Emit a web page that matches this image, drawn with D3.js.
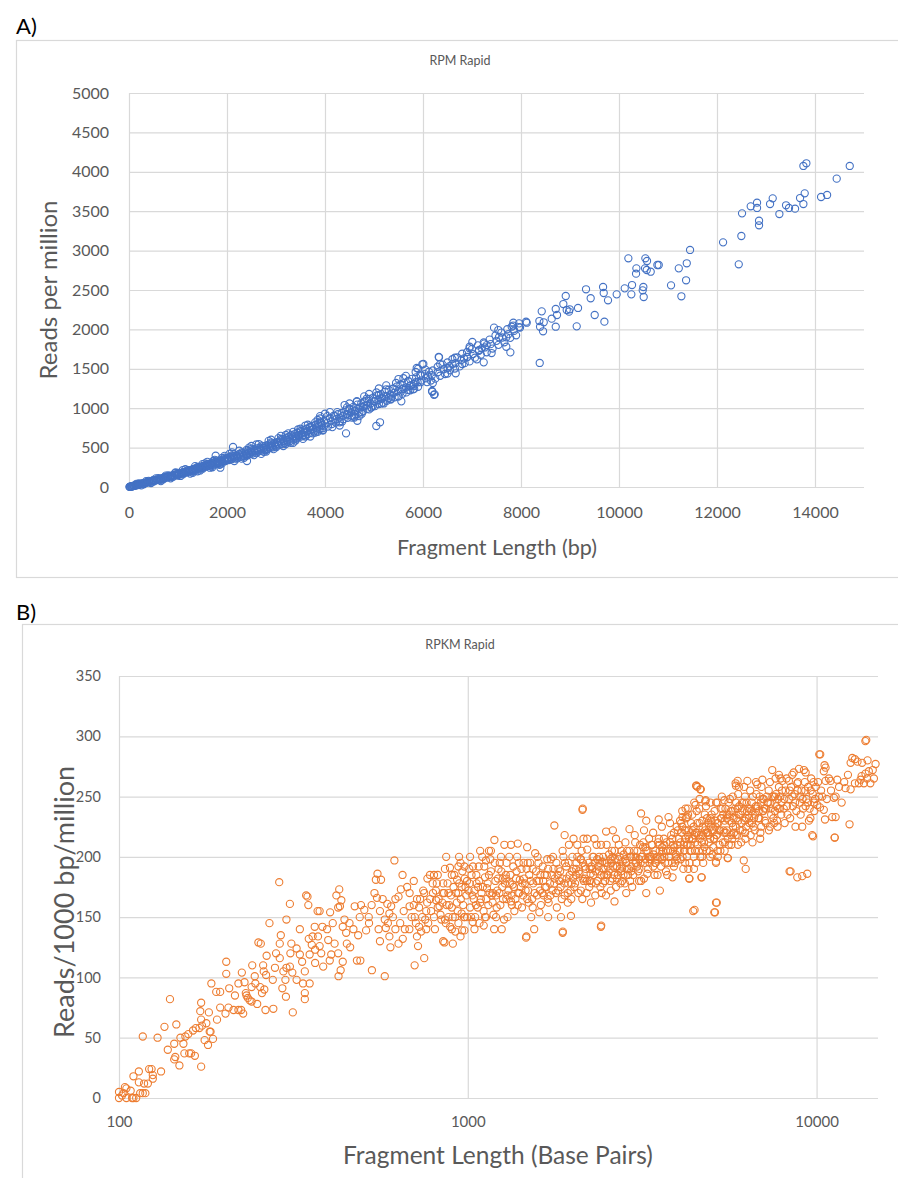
<!DOCTYPE html>
<html>
<head>
<meta charset="utf-8">
<script src="https://cdn.jsdelivr.net/npm/d3@7"></script>
<style>
body { margin: 0; background: #fff; }
text { font-family: Lato, "Open Sans", sans-serif; }
</style>
</head>
<body>
<script>
// A) RPM vs fragment length  [length bp, reads per million]
var rpmLow = [[10,1],[20,4],[35,5],[50,9],[60,7],[80,12],[95,16],[110,15],[125,20],[140,22],[160,26],[175,25],[190,31],[210,33],[230,35],[250,41],[270,42],[290,47],[310,48],[330,55],[350,54],[375,60],[400,63],[420,70],[445,68],[470,78],[495,76],[520,85],[545,84],[570,93],[600,96],[625,104],[650,101],[680,112],[710,114],[740,122],[770,120],[800,133],[830,135],[860,144],[890,142],[920,152],[950,158],[980,157],[300,40],[500,90],[650,90],[720,125],[850,125],[940,175],[990,145],
  [1010,170],[1030,158],[1055,177],[1080,169],[1100,188],[1125,177],[1150,196],[1175,185],[1200,208],[1225,194],[1250,215],[1275,202],[1300,226],[1320,213],[1350,237],[1375,222],[1400,246],[1425,231],[1450,257],[1475,239],[1500,265],[1525,248],[1550,275],[1575,259],[1600,286],[1625,267],[1650,296],[1680,278],[1700,305],[1730,286],[1760,318],[1790,298],[1820,329],[1850,307],[1880,342],[1910,320],[1940,353],[1970,329],[1990,364],[1860,290],[1720,330],[1769,397],[1864,245]];
var rpmMid = [[2010,367],[2040,342],[2070,381],[2100,354],[2130,395],[2160,362],[2190,403],[2220,372],[2250,419],[2280,384],[2310,430],[2340,393],[2370,440],[2400,408],[2430,456],[2460,415],[2490,463],[2520,425],[2550,476],[2580,439],[2610,491],[2640,449],[2670,499],[2700,459],[2730,515],[2760,472],[2790,524],[2820,481],[2850,539],[2880,493],[2910,550],[2940,503],[2970,559],[2990,518],[2123,508],[2408,330],[2200,390],[2500,440],[2750,495],[2900,525],
  [3020,570],[3050,528],[3080,589],[3110,542],[3140,606],[3170,556],[3200,624],[3230,570],[3260,638],[3290,583],[3320,657],[3350,601],[3380,672],[3410,613],[3440,689],[3470,629],[3500,706],[3530,643],[3560,720],[3590,657],[3620,739],[3650,673],[3680,754],[3710,687],[3740,772],[3770,703],[3800,787],[3830,716],[3860,806],[3890,733],[3920,819],[3950,745],[3980,838],[3350,700],[3700,770],[3550,660],[3900,900],[3980,770],[3150,580],[3450,650],[3750,730],
  [4000,930],[4020,856],[4060,767],[4100,873],[4140,799],[4180,905],[4220,817],[4260,923],[4300,834],[4340,940],[4380,861],[4420,973],[4460,879],[4500,990],[4540,906],[4580,1017],[4620,924],[4660,1045],[4700,946],[4740,1062],[4780,963],[4820,1090],[4860,991],[4900,1117],[4940,1008],[4980,1134],[5020,1026],[5060,1162],[5100,1053],[5140,1179],[5180,1070],[5220,1207],[5260,1093],[5300,1234],[5340,1110],[5380,1246],[5420,1138],[5460,1274],[5500,1150],[5540,1301],[5580,1182],[5620,1319],[5660,1200],[5700,1346],[5740,1227],[5780,1373],[5820,1245],[5860,1391],[5900,1272],[5950,1426],[4440,920],[4800,1030],[5150,1120],[5600,1250],[5850,1330],[5000,1090],[4600,960],[4429,681],[5047,774],[5123,821],[4660,841],[5558,1087]];
var rpmFill = [[15,2],[45,6],[70,11],[100,14],[130,21],[165,24],[200,30],[240,38],[280,44],[320,50],[360,58],[410,65],[460,72],[510,80],[560,88],[610,98],[660,106],[700,112],[750,120],[790,128],[840,136],[880,142],[930,150],[970,156],[1020,163],[1060,170],[1110,180],[1160,188],[1210,198],[1260,208],[1310,218],[1360,228],[1410,238],[1460,247],[1510,256],[1560,265],[1610,275],[1660,284],[1710,294],[1770,305],[1830,316],[1890,328],[1950,340],[1995,348],
  [200,45],[400,78],[600,112],[800,148],[1000,180],[1200,215],[1400,255],[1600,292],[1800,335],[1950,372],[300,35],[500,68],[700,98],[900,130],[1100,160],[1300,196],[1500,232],[1700,268],[1900,300],
  [2020,354],[2080,365],[2140,377],[2200,388],[2260,400],[2320,411],[2380,422],[2440,434],[2500,445],[2560,457],[2620,468],[2680,479],[2740,491],[2800,502],[2860,513],[2920,525],[2980,536],[3040,550],[3100,566],[3160,582],[3220,597],[3280,613],[3340,628],[3400,644],[3460,660],[3520,675],[3580,691],[3640,706],[3700,722],[3760,738],[3820,753],[3880,769],[3940,784],
  [2100,400],[2300,440],[2500,485],[2700,525],[2900,565],[3100,610],[3300,655],[3500,710],[3700,760],[3900,830],[2200,360],[2400,395],[2600,430],[2800,470],[3000,505],[3200,545],[3400,590],[3600,640],[3800,690],[3960,720],
  [4050,814],[4130,836],[4210,859],[4290,881],[4370,904],[4450,926],[4530,948],[4610,971],[4690,993],[4770,1016],[4850,1038],[4930,1060],[5010,1083],[5090,1105],[5170,1128],[5250,1150],[5330,1172],[5410,1195],[5490,1217],[5570,1240],[5650,1262],[5730,1284],[5810,1307],[5890,1329],[5970,1352],
  [4200,900],[4500,990],[4800,1080],[5100,1170],[5400,1250],[5700,1340],[5950,1410],[4650,1080],[5250,1240],[4300,820],[4600,895],[4900,985],[5200,1060],[5500,1150],[5800,1240],[4750,930],[5350,1120],
  [6060,1380],[6180,1418],[6300,1456],[6420,1494],[6540,1533],[6660,1571],[6780,1610],[6900,1648],[7020,1687],[7140,1729],[7260,1771],[7380,1813],[7500,1855],[7620,1897],[7740,1939],[7860,1981],[7980,2023]];
var rpmSpread = [[150,40],[250,20],[350,75],[450,50],[550,110],[650,75],[750,145],[850,110],[950,185],[1050,140],
  [1150,225],[1250,170],[1350,265],[1450,210],[1550,300],[1650,245],[1750,345],[1850,280],[1950,395],[1100,215],[1300,180],[1500,290],[1700,250],[1900,370],[1400,200],[1600,320],[1800,290],
  [2050,420],[2150,330],[2250,460],[2350,370],[2450,500],[2550,405],[2650,545],[2750,445],[2850,585],[2950,480],[2100,440],[2300,360],[2500,520],[2700,420],[2900,600],[2600,540],[2400,470],[2800,450],
  [3050,620],[3150,520],[3250,680],[3350,560],[3450,730],[3550,610],[3650,790],[3750,680],[3850,850],[3950,720],[3100,650],[3300,560],[3500,740],[3700,640],[3900,870],[3200,660],[3400,620],[3600,780],[3800,820],[3850,700],
  [4050,900],[4150,760],[4250,950],[4350,830],[4450,1010],[4550,880],[4650,1090],[4750,950],[4850,1120],[4950,1010],[4100,950],[4300,780],[4500,1060],[4700,900],[4900,1180],[4400,1040],[4600,880],[4800,1150],[4980,1030],
  [5050,1200],[5150,1060],[5250,1290],[5350,1150],[5450,1320],[5550,1210],[5650,1410],[5750,1290],[5850,1460],[5950,1330],[5100,1250],[5300,1130],[5500,1370],[5700,1230],[5900,1500],[5200,1150],[5600,1380],[5800,1280],
  [6050,1490],[6200,1320],[6350,1560],[6500,1440],[6650,1640],[6800,1560],[6950,1760],[7100,1620],[7250,1820],[7400,1700],[7550,1900],[7700,1780],[7850,2000],[6600,1560],[7200,1760]];
var rpmHigh = [[6007,1561],[6321,1650],[6225,1171],[6184,1218],[6239,1176],[6190,1209],[6327,1646],[5872,1510],[5987,1557],[7783,1709],[7239,1582],[6667,1443],
  [6040,1433],[6080,1331],[6120,1463],[6160,1351],[6200,1479],[6250,1375],[6300,1526],[6350,1412],[6400,1553],[6450,1434],[6500,1580],[6550,1481],[6600,1622],[6650,1503],[6700,1644],[6750,1530],[6800,1691],[6850,1572],[6900,1713],[6950,1594],[7000,1750],[7060,1641],[7120,1797],[7180,1678],[7240,1834],[7300,1710],[7360,1871],[7420,1757],[7480,1923],[7540,1804],[7600,1960],[7660,1836],[7720,2002],[7780,1893],[7840,2049],[7900,1925],[7960,2076],[6100,1400],[6500,1510],[6900,1650],[7300,1800],[7700,1900],[7450,2022],[7537,1992],[7007,1840],[6952,1780],[7143,1738],[6837,1631],
  [7844,2085],[7810,2034],[7960,2030],[8103,2098],[8117,2085],[8375,2106],[8389,2034],[8423,2229],[8464,2090],[8450,1976],[8709,2034],[8627,2136],[8382,1574],[8709,2259],[8735,2183],[8913,2424],[8864,2322],[8980,2225],[8933,2246],[8994,2255],[9164,2272],[9137,2039],[9422,2395],[9327,2509],[9504,2183],[9702,2098],[9675,2538],[9688,2462],[9776,2369],[9953,2445],[10117,2521],[10252,2445],[10266,2563],[10497,2538],[10484,2496],[10504,2411],[10191,2902],[10355,2775],[10348,2707],[10531,2775],[10566,2754],[10572,2868],[10538,2902],[10647,2732],[10811,2817],[10783,2817],[11273,2420],[11062,2559],[11369,2623],[11220,2775],[11383,2839],[11450,3008],[12444,2826],[12124,3105],[12497,3185],[12858,3379],[12858,3321],[12511,3473],[12817,3608],[12817,3541],[12688,3562],[13083,3591],[13137,3663],[13273,3464],[13409,3575],[13470,3541],[13593,3532],[13763,3591],[13695,3667],[13790,3727],[14124,3680],[14247,3706],[14443,3913],[14709,4074],[13763,4074],[13824,4108]];

// B) RPKM vs fragment length  [length bp, reads/1000 bp/million]
var rpkmShort = [[100,5],[100,0],[104,9],[105,8],[103,4],[105,0],[109,0],[110,0],[102,2],[117,4],[119,4],[115,4],[110,18],[114,22],[114,13],[122,24],[124,24],[125,19],[125,16],[121,12],[132,22],[117,51],[129,50],[135,59],[146,61],[140,82],[144,45],[153,45],[144,32],[145,34],[149,27],[154,37],[159,37],[161,37],[172,26],[155,51],[158,53],[163,56],[166,58],[170,58],[173,60],[180,44],[176,48],[186,49],[182,55],[171,72],[172,65],[172,79],[181,71],[183,55],[191,65],[184,95],[190,88],[195,88],[108,6],[112,0],[118,12],[138,40],[150,50],[165,35],[178,62],[195,75],
  [203,113],[203,103],[207,91],[206,75],[213,73],[224,73],[227,70],[220,73],[202,70],[225,104],[229,96],[232,85],[234,83],[237,81],[231,87],[240,92],[246,95],[249,78],[263,73],[277,74],[270,145],[251,129],[255,128],[288,179],[309,161],[302,148],[347,167],[349,160],[344,168],[315,71],[264,102],[261,90],[257,87],[254,92],[241,110],[245,101],[259,110],[260,105],[282,120],[289,116],[276,98],[291,135],[289,128],[294,91],[296,105],[302,108],[309,109],[301,84],[312,128],[323,124],[330,119],[314,104],[323,98],[337,95],[341,105],[335,113],[352,119],[357,127],[365,123],[376,126],[341,87],[341,82],[352,95],[364,142],[383,142],[372,134],[359,134],[376,155],[371,155],[403,154],[398,131],[406,119],[402,114],[385,109],[420,168],[428,173],[434,164],[430,159],[425,158],[443,148],[438,142],[458,145],[448,137],[425,120],[438,113],[432,106],[426,101],[481,114],[492,114],[474,159],[494,160],[470,140],[485,135],[460,125],[415,128],[395,140],[365,112],[330,140],[310,120],[280,108],[265,118],[220,95],[215,85],[240,80],[300,98],[350,132],[380,120],[410,145],[450,128],[490,150],
  [505,156],[521,145],[511,139],[531,106],[540,170],[549,166],[564,181],[545,181],[551,186],[578,101],[588,161],[603,159],[596,153],[578,148],[616,197],[582,141],[596,134],[633,128],[651,132],[643,173],[633,167],[681,170],[681,159],[704,110],[750,116],[720,126],[735,138],[725,142],[715,134],[766,182],[779,185],[793,178],[811,164],[848,170],[830,159],[867,200],[944,200],[889,191],[932,181],[953,195],[978,192],[906,128],[953,134],[921,138],[978,139],[860,148],[890,142],[920,150],[960,153],[857,129],[963,139],
  [520,150],[530,160],[555,140],[560,155],[570,165],[590,145],[610,150],[620,165],[640,145],[655,155],[660,140],[670,175],[690,150],[700,160],[710,145],[730,165],[740,150],[760,155],[770,145],[780,165],[800,150],[810,172],[820,158],[840,148],[850,178],[870,160],[880,170],[900,158],[910,175],[930,162],[940,170],[960,175],[970,160],[990,168],[995,150],[560,130],[600,125],[650,185],[700,180],[750,170],[800,185],[850,130],[900,185],[980,182],[620,140],[680,140],[760,140],[880,150],[940,145]];
var rpkmMid = [[1192,214],[1273,210],[1391,211],[1771,226],[1895,218],[1127,197],[1033,146],[1111,143],[1251,140],[1469,133],[1604,154],[1871,137],[1976,151],[1473,134],[1873,138],
  [1005,172],[1015,158],[1025,185],[1040,165],[1050,150],[1060,178],[1075,192],[1085,162],[1095,170],[1110,155],[1120,183],[1135,174],[1145,160],[1160,198],[1170,168],[1185,152],[1200,180],[1215,172],[1225,190],[1240,160],[1255,175],[1270,148],[1285,185],[1300,168],[1315,200],[1330,163],[1345,177],[1360,155],[1380,188],[1395,170],[1410,181],[1430,158],[1445,195],[1465,172],[1480,165],[1500,185],[1520,150],[1540,178],[1560,203],[1580,168],[1600,180],[1620,160],[1640,192],[1665,175],[1685,185],[1705,162],[1730,198],[1750,172],[1775,182],[1800,158],[1820,190],[1845,175],[1870,205],[1895,168],[1920,182],[1945,195],[1970,172],[1990,188],
  [1010,190],[1030,168],[1055,160],[1070,175],[1100,200],[1130,165],[1150,185],[1180,170],[1210,158],[1235,195],[1260,182],[1290,165],[1320,178],[1350,192],[1370,165],[1400,195],[1420,175],[1450,182],[1490,172],[1510,195],[1530,165],[1570,188],[1610,172],[1650,168],[1690,198],[1720,178],[1760,190],[1790,170],[1830,180],[1860,165],[1900,195],[1940,178],[1980,165],[1080,145],[1190,140],[1330,210],[1550,140],[1700,150],[1850,150],[1300,150],[1150,205],[1480,208],[1950,210],
  [2136,240],[2132,239],[2413,143],[2408,142],[3139,236],[3248,230],[2846,170],[3248,170],[3554,172],[3864,183],[2256,162],[2634,163],[2010,215],[2147,215],[2308,215],[2492,221],[2606,222],[2908,223],[3527,231],[3762,233],
  [2010,190],[2030,178],[2060,200],[2090,186],[2110,172],[2140,195],[2170,182],[2200,206],[2230,175],[2260,192],[2290,185],[2320,168],[2350,198],[2380,188],[2410,210],[2440,178],[2470,195],[2500,185],[2540,202],[2570,172],[2610,192],[2640,198],[2680,182],[2710,210],[2750,188],[2780,196],[2820,178],[2860,205],[2900,190],[2940,200],[2980,185],[3020,212],[3060,192],[3100,198],[3140,180],[3180,208],[3220,195],[3270,186],[3310,215],[3360,200],[3400,192],[3450,205],[3500,185],[3550,210],[3600,198],[3650,215],[3700,188],[3750,205],[3800,212],[3850,195],[3900,220],[3950,202],[3990,210],
  [2020,175],[2050,195],[2080,188],[2120,205],[2150,180],[2190,170],[2220,195],[2250,186],[2280,200],[2330,178],[2370,192],[2400,175],[2430,196],[2460,185],[2490,168],[2520,192],[2560,180],[2590,205],[2630,185],[2660,175],[2700,198],[2730,190],[2770,180],[2800,202],[2840,195],[2880,185],[2920,200],[2960,175],[3000,205],[3040,195],[3080,188],[3120,210],[3160,200],[3200,182],[3250,205],[3290,190],[3340,198],[3380,210],[3430,185],[3480,200],[3530,215],[3580,192],[3630,205],[3680,195],[3730,185],[3780,200],[3830,218],[3880,205],[3930,195],[3970,225]];
var rpkmFill = [[705,150],[715,165],[725,158],[745,172],[755,148],[765,162],[785,155],[795,170],[805,140],[815,178],[825,165],[835,152],[845,162],[855,170],[865,145],[875,178],[885,160],[895,168],[905,150],[915,185],[925,170],[935,155],[945,178],[955,165],[965,188],[975,150],[985,175],[995,180],
  [1012,178],[1022,150],[1035,192],[1045,172],[1058,185],[1068,158],[1078,180],[1090,165],[1105,175],[1115,192],[1128,150],[1140,178],[1155,170],[1165,188],[1178,162],[1195,195],[1205,168],[1220,182],[1232,170],[1248,188],[1262,165],[1278,178],[1292,195],[1308,172],[1325,185],[1338,160],[1355,175],[1375,182],[1390,160],[1405,170],[1425,190],[1440,168],[1458,178],[1475,190],[1495,162],[1515,180],[1535,190],[1555,170],[1575,180],[1595,195],[1615,185],[1635,170],[1660,185],[1680,175],[1700,190],[1725,168],[1745,185],[1770,178],[1795,195],[1815,172],[1840,188],[1865,182],[1890,178],[1915,192],[1935,170],[1960,185],[1985,178],
  [2005,182],[2045,190],[2075,170],[2105,198],[2135,182],[2165,192],[2195,180],[2235,190],[2265,178],[2295,200],[2325,188],[2355,180],[2385,195],[2415,185],[2445,200],[2475,180],[2505,195],[2535,188],[2565,198],[2600,182],[2635,205],[2665,192],[2695,185],[2725,200],[2760,192],[2795,185],[2830,198],[2865,190],[2905,205],[2945,192],[2985,200],[3025,195],[3065,205],[3105,190],[3145,200],[3190,212],[3230,198],[3275,205],[3320,195],[3365,210],[3410,202],[3460,195],[3510,212],[3560,200],[3610,208],[3660,200],[3710,212],[3760,195],[3810,205],[3860,215],[3910,208],[3960,200],
  [4010,205],[4070,212],[4130,200],[4190,222],[4240,210],[4280,218],[4330,205],[4390,215],[4440,225],[4490,212],[4540,220],[4600,205],[4660,218],[4710,225],[4770,208],[4830,220],[4890,228],[4950,215],[5010,222],[5060,208],[5120,230],[5180,218],[5250,222],[5310,240],[5390,212],[5450,230],[5530,222],[5610,235],[5690,218],[5780,232],[5860,225],[5940,240],[6030,222],[6120,238],[6210,230],[6300,245],[6400,232],[6500,238],[6600,225],[6700,242],[6810,232],[6920,245],[7030,238],[7150,228],[7270,245],[7400,240],[7520,232],[7650,252],[7780,240],[7920,235],[8080,248],[8220,242],[8380,255],[8520,250],[8680,245],[8820,255],[8980,250],[9120,248],[9280,255],[9450,245],[9620,255],[9800,262]];
var rpkmSpread = [[820,185],[860,190],[900,140],[940,192],[980,150],[1015,200],[1045,140],[1085,205],[1120,150],[1165,205],[1205,150],[1245,200],[1290,182],[1335,168],[1385,200],[1435,178],[1485,195],[1535,158],[1585,200],[1645,180],[1695,165],[1755,200],[1810,185],[1880,200],[1935,162],[1995,200],
  [2060,210],[2130,165],[2200,215],[2270,190],[2340,210],[2420,170],[2500,210],[2580,195],[2660,215],[2740,178],[2830,212],[2920,180],[3010,218],[3100,180],[3200,222],[3300,200],[3400,220],[3500,198],[3600,225],[3700,205],[3800,228],[3900,192],[4000,222],
  [2040,185],[2110,198],[2180,190],[2240,180],[2310,195],[2380,200],[2450,190],[2520,185],[2600,200],[2680,192],[2760,205],[2850,195],[2940,188],[3030,200],[3130,195],[3230,208],[3330,200],[3440,195],[3550,205],[3660,210],[3770,200],[3880,210],[3980,198],
  [4090,228],[4160,210],[4230,222],[4310,215],[4380,205],[4460,218],[4550,228],[4630,215],[4720,205],[4810,225],[4900,218],[4990,230],[5090,215],[5190,228],[5290,222],[5400,235],[5500,220],[5620,230],[5740,238],[5860,218],[5980,235],[6110,245],[6240,220],[6380,235],[6530,228],[6690,240],[6850,232],[7020,238],[7200,250],[7380,244],[7560,228],[7760,248],[7960,255],
  [4120,238],[4280,235],[4460,245],[4620,248],[4780,235],[4960,232],[5150,245],[5350,250],[5550,235],[5750,250],[5960,252],[6200,258],[6450,255],[6700,262],[6950,258],[4200,195],[4450,190],[4700,200],[4950,200],[5200,205],[5450,205],[5700,210],[5950,210],[6250,215],[6550,212],[6900,220],[7300,222],[7700,230]];
var rpkmLong = [[4514,259],[4646,256],[4530,259],[4640,256],[5872,259],[5939,263],[5148,162],[5090,154],[4429,155],[4468,156],[5115,154],[5174,162],[4274,240],[4795,246],[5442,247],[4323,182],[4686,183],[5148,196],[5557,199],[4310,182],[4674,183],[5147,195],[5572,199],[6183,197],[6262,190],[8366,188],[8423,188],[7462,272],[7800,268],[8904,273],[9303,270],[8515,268],[7886,265],[8330,263],[8804,261],[5990,258],[5859,261],[6332,263],[6760,260],[6992,264],[7629,265],[7973,263],[4550,258],[4654,256],[4497,243],[4808,247],[4210,240],[4259,233],[4126,233],[9096,184],[8804,183],[9403,186],[9717,218],[9770,217],[9096,225],[9508,230],
  [4030,215],[4080,198],[4120,225],[4170,205],[4220,232],[4270,210],[4320,195],[4370,228],[4420,215],[4480,205],[4530,238],[4590,218],[4640,200],[4700,230],[4760,212],[4820,242],[4880,220],[4940,205],[5000,235],[5070,215],[5130,225],[5200,245],[5270,210],[5340,232],[5410,222],[5480,240],[5560,215],[5640,248],[5720,228],[5800,220],[5880,245],[5960,230],[6050,235],[6140,222],[6230,250],[6320,238],[6420,228],[6520,245],[6620,232],[6720,252],[6830,238],[6940,225],[7050,248],[7170,240],[7290,255],[7410,235],[7540,250],[7670,242],[7800,258],[7940,245],
  [4050,205],[4100,220],[4150,190],[4200,215],[4250,200],[4300,222],[4350,210],[4400,235],[4450,200],[4500,220],[4560,210],[4620,228],[4680,212],[4730,195],[4790,222],[4850,232],[4910,212],[4970,225],[5030,202],[5100,238],[5160,218],[5230,228],[5300,205],[5370,240],[5440,220],[5520,232],[5600,210],[5680,238],[5760,225],[5840,240],[5920,218],[6000,242],[6100,228],[6190,245],[6280,225],[6370,240],[6470,218],[6570,250],[6670,235],[6780,242],[6890,215],[7000,248],[7110,230],[7230,245],[7350,225],[7470,250],[7600,238],[7730,225],[7870,250],
  [4060,230],[4180,212],[4290,190],[4410,222],[4520,195],[4610,240],[4720,218],[4840,205],[4960,245],[5080,222],[5210,200],[5320,232],[5460,212],[5590,245],[5730,215],[5900,232],[6080,212],[6260,232],[6450,240],[6650,222],[6870,250],[7100,240],[7350,262],[7600,250],[7850,240],
  [10245,285],[10180,285],[13880,297],[13800,296],[14760,277],[14490,272],[14120,271],[13810,269],[13460,267],[13220,261],[13670,261],[14260,261],[13960,265],[13370,264],[12660,282],[12880,281],[13100,279],[12520,278],[12100,257],[12520,256],[12880,261],[10540,276],[10490,271],[10610,274],[10850,265],[10610,263],[10970,263],[11460,264],[10160,250],[10380,250],[9826,245],[10045,243],[11340,250],[11210,249],[10490,239],[11090,233],[11340,233],[10225,241],[10570,231],[12430,227],[11280,216],[11260,216],
  [8050,240],[8150,255],[8250,235],[8350,248],[8450,258],[8550,242],[8650,252],[8750,238],[8850,262],[8950,245],[9050,255],[9150,240],[9250,262],[9350,248],[9450,258],[9550,240],[9650,265],[9750,252],[9850,238],[9950,258],[8100,228],[8400,232],[8700,225],[9000,235],[9300,242],[9600,232],[9900,248],[8200,265],[8600,270],[9200,272],
  [10100,262],[10300,255],[10700,248],[11000,255],[11600,258],[11800,245],[12000,262],[12300,268],[13500,278],[14000,280],[14600,265]];

var rpmXTicks = [0, 2000, 4000, 6000, 8000, 10000, 12000, 14000];
var rpmYTicks = [0, 500, 1000, 1500, 2000, 2500, 3000, 3500, 4000, 4500, 5000];
var rpkmXTicks = [100, 1000, 10000];
var rpkmYTicks = [0, 50, 100, 150, 200, 250, 300, 350];

var svg = d3.select("body").append("svg").attr("width", 898).attr("height", 1178);

function panel(o) {
  var g = svg.append("g");
  g.append("rect").attr("x", o.box[0]).attr("y", o.box[1]).attr("width", o.box[2]).attr("height", o.box[3])
    .attr("fill", "none").attr("stroke", "#d9d9d9").attr("stroke-width", 1.2);
  g.append("text").attr("x", 16).attr("y", o.letterY).attr("font-size", 22).attr("fill", "#000").text(o.letter);
  g.append("text").attr("x", 460).attr("y", o.box[1] + 24).attr("text-anchor", "middle")
    .attr("font-size", 12.5).attr("fill", "#595959").text(o.title);

  var x = o.x, y = o.y;
  var x0 = x.range()[0], x1 = x.range()[1], y0 = y.range()[0], y1 = y.range()[1];

  var ya = g.append("g").attr("transform", "translate(" + x0 + ",0)")
    .call(d3.axisLeft(y).tickValues(o.yTicks).tickSize(-(x1 - x0)).tickPadding(o.yPad).tickFormat(d3.format("d")));
  var xa = g.append("g").attr("transform", "translate(0," + y0 + ")")
    .call(d3.axisBottom(x).tickValues(o.xTicks).tickSize(-(y0 - y1)).tickPadding(o.xPad).tickFormat(d3.format("d")));
  [ya, xa].forEach(function (a) {
    a.select(".domain").remove();
    a.selectAll("line").attr("stroke", "#d9d9d9").attr("stroke-width", 1.2);
    a.selectAll("text").attr("fill", "#595959").attr("font-family", "Lato, 'Open Sans', sans-serif");
  });
  ya.selectAll("text").attr("font-size", o.yFont);
  xa.selectAll("text").attr("font-size", o.xFont);

  g.append("text").attr("x", o.xTitle[1]).attr("y", o.xTitle[2]).attr("text-anchor", "middle")
    .attr("font-size", o.xTitle[3]).attr("fill", "#595959").text(o.xTitle[0]);
  g.append("text").attr("transform", "translate(" + o.yTitle[1] + "," + o.yTitle[2] + ") rotate(-90)")
    .attr("text-anchor", "middle").attr("font-size", o.yTitle[3]).attr("fill", "#595959").text(o.yTitle[0]);

  g.append("g").selectAll("circle").data(o.data).enter().append("circle")
    .attr("cx", function (d) { return x(d[0]); })
    .attr("cy", function (d) { return y(d[1]); })
    .attr("r", 3.6)
    .attr("fill", "none").attr("stroke", o.color).attr("stroke-width", 1.1);
}

panel({
  box: [16.5, 40.5, 890, 537], letter: "A)", letterY: 34, title: "RPM Rapid",
  x: d3.scaleLinear().domain([0, 15000]).range([129, 864]),
  y: d3.scaleLinear().domain([0, 5000]).range([487, 93]),
  xTicks: rpmXTicks, yTicks: rpmYTicks, xPad: 20, yPad: 20, xFont: 16, yFont: 16,
  xTitle: ["Fragment Length (bp)", 497, 555, 21.5],
  yTitle: ["Reads per million", 57, 290, 24],
  data: rpmLow.concat(rpmMid, rpmFill, rpmSpread, rpmHigh), color: "#4472C4"
});

panel({
  box: [22.5, 624.5, 885, 570], letter: "B)", letterY: 620, title: "RPKM Rapid",
  x: d3.scaleLog().domain([100, 15000]).range([119, 878]),
  y: d3.scaleLinear().domain([0, 350]).range([1098, 676]),
  xTicks: rpkmXTicks, yTicks: rpkmYTicks, xPad: 18, yPad: 18, xFont: 15, yFont: 14.5,
  xTitle: ["Fragment Length (Base Pairs)", 498, 1164, 24.5],
  yTitle: ["Reads/1000 bp/million", 74, 902, 27],
  data: rpkmShort.concat(rpkmMid, rpkmFill, rpkmSpread, rpkmLong), color: "#ED7D31"
});
</script>
</body>
</html>
